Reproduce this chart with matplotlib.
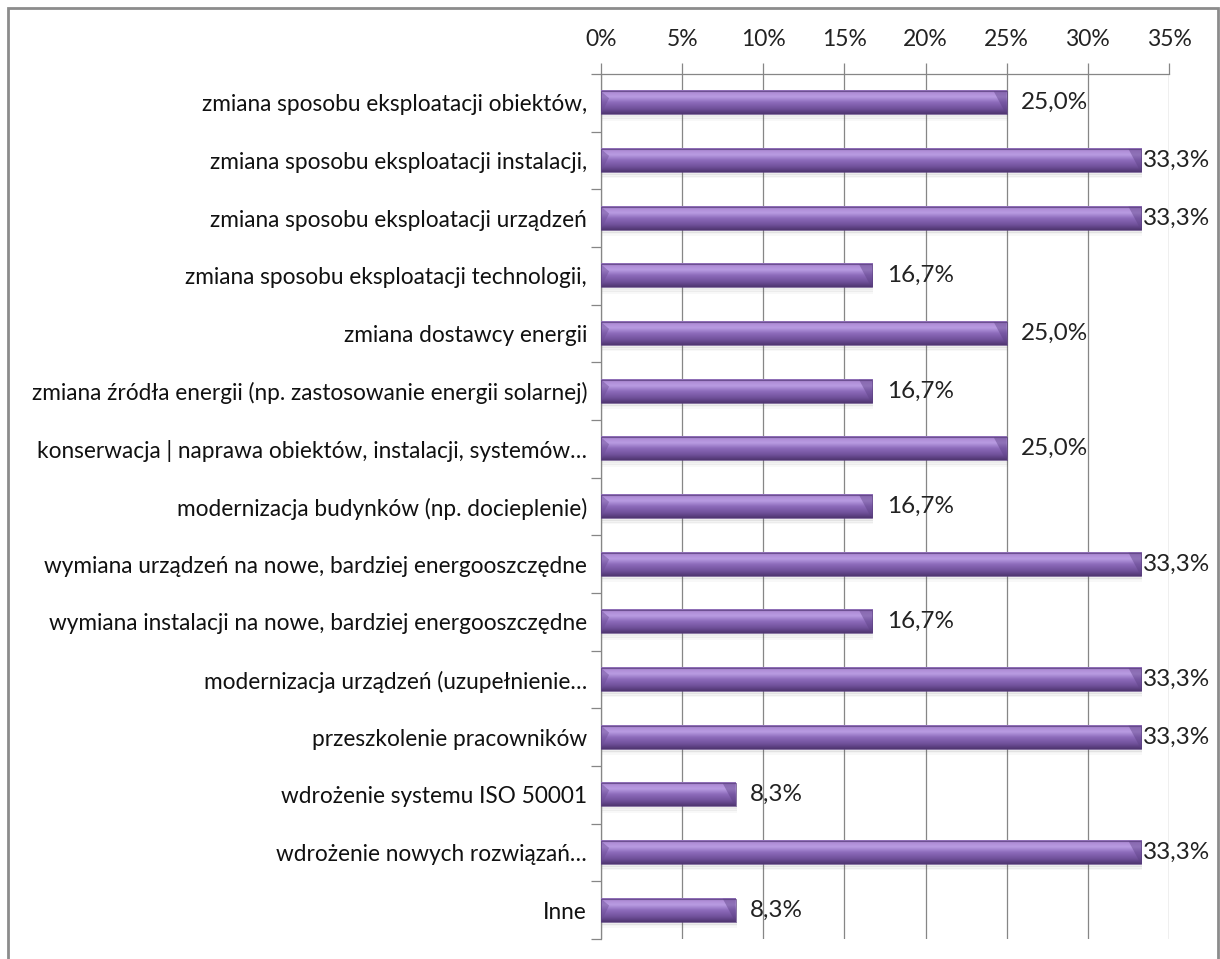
import numpy as np
import matplotlib.pyplot as plt
from matplotlib.colors import LinearSegmentedColormap
from matplotlib.patches import Rectangle, Polygon

# Categories (top to bottom) and share of answers in percent
categories = [
    "zmiana sposobu eksploatacji obiektów,",
    "zmiana sposobu eksploatacji instalacji,",
    "zmiana sposobu eksploatacji urządzeń",
    "zmiana sposobu eksploatacji technologii,",
    "zmiana dostawcy energii",
    "zmiana źródła energii (np. zastosowanie energii solarnej)",
    "konserwacja | naprawa obiektów, instalacji, systemów…",
    "modernizacja budynków (np. docieplenie)",
    "wymiana urządzeń na nowe, bardziej energooszczędne",
    "wymiana instalacji na nowe, bardziej energooszczędne",
    "modernizacja urządzeń (uzupełnienie…",
    "przeszkolenie pracowników",
    "wdrożenie systemu ISO 50001",
    "wdrożenie nowych rozwiązań…",
    "Inne",
]
values = [25.0, 33.3, 33.3, 16.7, 25.0, 16.7, 25.0, 16.7, 33.3, 16.7, 33.3, 33.3, 8.3, 33.3, 8.3]
xticks = [0, 5, 10, 15, 20, 25, 30, 35]

plt.rcParams['font.family'] = ['Lato', 'DejaVu Sans']

W, H = 1220, 959
fig = plt.figure(figsize=(W / 100, H / 100), dpi=100)
fig.patch.set_facecolor('white')

# outer chart frame
fig.add_artist(Rectangle((8 / W, -0.05), (1218 - 8) / W, 1 - 8 / H + 0.05,
                         transform=fig.transFigure, fill=False,
                         edgecolor='#8c8c8c', linewidth=2))

ax = fig.add_axes([601 / W, 1 - 939 / H, (1169 - 601) / W, (939 - 74) / H])

n = len(categories)
ax.set_xlim(0, 35)
ax.set_ylim(n - 0.5, -0.5)

# purple bevelled bar gradient (top -> bottom)
cmap = LinearSegmentedColormap.from_list('bar', [
    (0.0, '#8a6ab0'), (0.12, '#b08fd8'), (0.28, '#b99ce2'),
    (0.5, '#8e6cbc'), (0.8, '#6e4f98'), (1.0, '#4f3570')])
grad = np.linspace(0, 1, 64).reshape(-1, 1)

bh = 0.4
for i, v in enumerate(values):
    top, bot = i - bh / 2, i + bh / 2
    # soft shadow under the bar
    for k, a in enumerate([0.10, 0.07, 0.04]):
        ax.add_patch(Rectangle((0.05, bot + 0.01 + k * 0.03), v, 0.04,
                               facecolor='#555555', alpha=a, edgecolor='none', zorder=2))
    ax.imshow(grad, extent=(0, v, bot, top), cmap=cmap,
              aspect='auto', interpolation='bicubic', zorder=3)
    # darker bevel at the bar ends
    ax.add_patch(Polygon([(v - 0.8, top), (v, top), (v, bot), (v - 0.15, bot - 0.06)],
                         closed=True, facecolor='#5e4286', alpha=0.45,
                         edgecolor='none', zorder=4))
    ax.add_patch(Polygon([(0, top), (0.5, top + 0.12), (0, bot)],
                         closed=True, facecolor='#6b4d94', alpha=0.45,
                         edgecolor='none', zorder=4))
    ax.add_patch(Rectangle((0, top), v, bh, fill=False,
                           edgecolor='#5a3f7e', linewidth=0.5, zorder=5))
    lx = min(v + 0.9, 33.4)
    ax.text(lx, i, f"{v:.1f}%".replace('.', ','), va='center', ha='left',
            fontsize=17.5, color='#222222', zorder=6)

# value axis on top with gridlines
ax.xaxis.tick_top()
ax.set_xticks(xticks)
ax.set_xticklabels([f"{t}%" for t in xticks], fontsize=16.5, color='#222222')
ax.tick_params(axis='x', direction='out', length=8, width=0.9, color='#868686', pad=9)
ax.grid(axis='x', color='#868686', linewidth=0.9, zorder=0)
ax.set_axisbelow(True)

# category axis: labels at rows, tick marks between rows
ax.set_yticks(range(n))
ax.set_yticklabels(categories, fontsize=16.3, color='#111111')
ax.set_yticks(np.arange(-0.5, n, 1), minor=True)
ax.tick_params(axis='y', which='major', length=0, pad=10)
ax.tick_params(axis='y', which='minor', direction='out', length=7, width=0.9, color='#868686')

for s in ['right', 'bottom']:
    ax.spines[s].set_visible(False)
for s in ['left', 'top']:
    ax.spines[s].set_color('#868686')
    ax.spines[s].set_linewidth(0.9)

fig.savefig('out.png', dpi=100)
